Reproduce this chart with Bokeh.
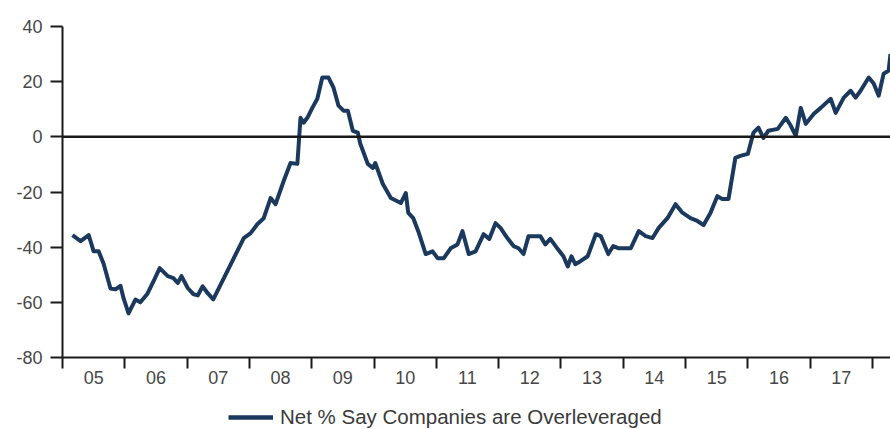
from bokeh.plotting import figure
from bokeh.layouts import column
from bokeh.models import Span, FixedTicker, Legend, LegendItem, Range1d, ColumnDataSource
from bokeh.embed import file_html
from bokeh.resources import INLINE

# ---- data ----
dates = [2005.16, 2005.29, 2005.42, 2005.50, 2005.58, 2005.66, 2005.77, 2005.85, 2005.93, 2005.98,
         2006.06, 2006.17, 2006.25, 2006.36, 2006.46, 2006.56, 2006.69, 2006.78, 2006.85, 2006.91,
         2007.01, 2007.10, 2007.17, 2007.25, 2007.33, 2007.42, 2007.54, 2007.70, 2007.91, 2008.02,
         2008.13, 2008.23, 2008.34, 2008.42, 2008.55, 2008.66, 2008.77, 2008.82, 2008.87, 2008.93,
         2009.01, 2009.09, 2009.17, 2009.27, 2009.35, 2009.43, 2009.51, 2009.58, 2009.66, 2009.74,
         2009.78, 2009.90, 2009.98, 2010.02, 2010.14, 2010.27, 2010.43, 2010.51, 2010.55, 2010.63,
         2010.71, 2010.83, 2010.94, 2011.02, 2011.12, 2011.23, 2011.34, 2011.42, 2011.52, 2011.63,
         2011.76, 2011.85, 2011.95, 2012.03, 2012.14, 2012.24, 2012.32, 2012.40, 2012.48, 2012.59,
         2012.67, 2012.75, 2012.83, 2012.95, 2013.04, 2013.11, 2013.17, 2013.23, 2013.32, 2013.43,
         2013.56, 2013.64, 2013.76, 2013.84, 2013.93, 2014.01, 2014.12, 2014.25, 2014.36, 2014.47,
         2014.57, 2014.71, 2014.84, 2014.95, 2015.08, 2015.19, 2015.29, 2015.40, 2015.51, 2015.59,
         2015.69, 2015.80, 2015.88, 2016.00, 2016.09, 2016.17, 2016.25, 2016.33, 2016.48, 2016.61,
         2016.69, 2016.77, 2016.85, 2016.93, 2017.06, 2017.17, 2017.33, 2017.41, 2017.54, 2017.65,
         2017.73, 2017.81, 2017.94, 2018.02, 2018.10, 2018.18, 2018.26, 2018.29]

net_overleveraged = [-35.6, -37.8, -35.6, -41.5, -41.5, -46.0, -55.0, -55.3, -54.0, -58.5,
                     -64.0, -59.0, -60.0, -57.0, -52.4, -47.6, -50.5, -51.2, -53.0, -50.5,
                     -54.8, -57.0, -57.5, -54.2, -56.7, -58.9, -53.5, -46.2, -36.7, -34.9,
                     -31.6, -29.5, -22.2, -24.4, -16.0, -9.5, -9.8, 6.9, 5.1, 6.9,
                     10.5, 13.8, 21.5, 21.5, 17.8, 11.3, 9.5, 9.5, 2.2, 1.5,
                     -2.5, -9.8, -11.3, -9.5, -17.0, -22.2, -24.0, -20.4, -27.6, -29.5,
                     -34.2, -42.5, -41.5, -44.0, -44.0, -40.4, -39.0, -34.2, -42.5, -41.5,
                     -35.3, -37.0, -31.3, -33.0, -36.7, -39.6, -40.4, -42.5, -36.0, -36.0,
                     -36.0, -39.0, -37.0, -40.7, -43.3, -47.0, -43.3, -46.2, -45.0, -43.3,
                     -35.3, -36.0, -42.5, -39.6, -40.4, -40.4, -40.4, -34.2, -36.0, -36.7,
                     -33.0, -29.5, -24.4, -27.5, -29.5, -30.5, -32.0, -27.6, -21.5, -22.5,
                     -22.5, -7.6, -6.9, -6.2, 1.5, 3.3, -0.4, 2.2, 2.9, 6.9,
                     4.0, 0.4, 10.5, 4.7, 8.4, 10.5, 13.8, 8.7, 14.2, 16.7,
                     14.2, 16.7, 21.5, 19.3, 14.9, 22.9, 24.0, 30.0]

year_bounds = [2005, 2006, 2007, 2008, 2009, 2010, 2011, 2012, 2013, 2014, 2015, 2016, 2017, 2018]
year_label_pos = [2005.5, 2006.5, 2007.5, 2008.5, 2009.5, 2010.5, 2011.5, 2012.5, 2013.5,
                  2014.5, 2015.5, 2016.5, 2017.5]
year_labels = ["05", "06", "07", "08", "09", "10", "11", "12", "13", "14", "15", "16", "17"]
y_ticks = [-80, -60, -40, -20, 0, 20, 40]
y_tick_labels = ["-80", "-60", "-40", "-20", "0", "20", "40"]
series_label = "Net % Say Companies are Overleveraged"

assert len(dates) == len(net_overleveraged)

FONT = "Liberation Sans"
LINE_COLOR = "#1b395c"
INK = "#1a1a1a"
LABEL = "#474747"

src = ColumnDataSource(dict(x=dates, y=net_overleveraged))

# ---- main chart ----
p = figure(width=890, height=392,
           x_range=Range1d(2005, 2018.29), y_range=Range1d(-80, 40),
           output_backend="svg", toolbar_location=None,
           min_border_left=62, min_border_right=0, min_border_top=26, min_border_bottom=35)
p.outline_line_color = None
p.xgrid.grid_line_color = None
p.ygrid.grid_line_color = None

p.line("x", "y", source=src, line_color=LINE_COLOR, line_width=4, line_join="round")
p.add_layout(Span(location=0, dimension="width", line_color=INK, line_width=2.5))

ya = p.yaxis[0]
ya.ticker = FixedTicker(ticks=y_ticks)
ya.major_label_overrides = {t: lab for t, lab in zip(y_ticks, y_tick_labels)}
ya.minor_tick_line_color = None
ya.major_tick_in = 0
ya.major_tick_out = 12
ya.major_tick_line_color = INK
ya.major_tick_line_width = 2
ya.axis_line_color = INK
ya.axis_line_width = 2
ya.major_label_standoff = 8
ya.major_label_text_font = FONT
ya.major_label_text_font_size = "18px"
ya.major_label_text_color = LABEL

xa = p.xaxis[0]
xa.ticker = FixedTicker(ticks=year_label_pos, minor_ticks=year_bounds)
xa.major_label_overrides = {pos: lab for pos, lab in zip(year_label_pos, year_labels)}
xa.major_tick_line_color = None
xa.major_tick_in = 0
xa.major_tick_out = 10
xa.minor_tick_in = 0
xa.minor_tick_out = 11
xa.minor_tick_line_color = INK
xa.minor_tick_line_width = 2
xa.axis_line_color = INK
xa.axis_line_width = 2
xa.major_label_standoff = 2
xa.major_label_text_font = FONT
xa.major_label_text_font_size = "18px"
xa.major_label_text_color = LABEL

# ---- legend strip below the chart ----
p2 = figure(width=890, height=37, x_range=Range1d(0, 1), y_range=Range1d(0, 1),
            x_axis_type=None, y_axis_type=None,
            output_backend="svg", toolbar_location=None,
            min_border_left=62, min_border_right=0, min_border_top=0, min_border_bottom=0)
p2.outline_line_color = None
# same series; it lies outside this strip's ranges, so only its legend sample shows
r2 = p2.line("x", "y", source=src, line_color=LINE_COLOR, line_width=4.5)

legend = Legend(items=[LegendItem(label=series_label, renderers=[r2])],
                location=(166, 0), orientation="horizontal",
                glyph_width=45, glyph_height=20, label_standoff=7,
                padding=0, margin=0, spacing=0,
                border_line_color=None, background_fill_alpha=0,
                label_text_font=FONT, label_text_font_size="20.5px",
                label_text_color="#3a3a3a")
p2.add_layout(legend)

layout = column(p, p2, spacing=0)
open("out.html", "w").write(file_html(layout, INLINE))
